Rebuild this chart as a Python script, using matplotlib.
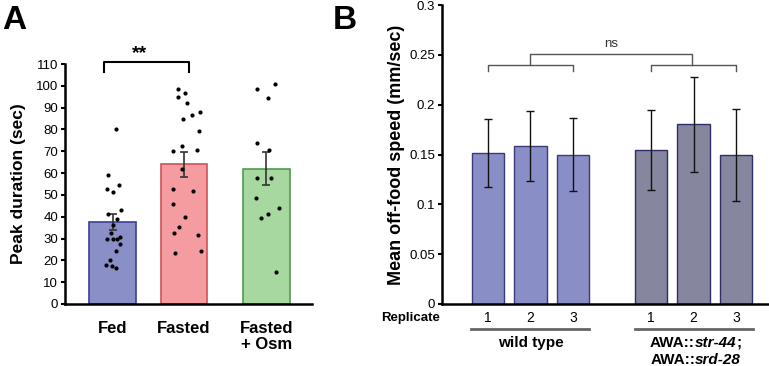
import matplotlib.pyplot as plt
import numpy as np

plt.rcParams['font.family'] = ['Liberation Sans', 'DejaVu Sans']

# ---- panel A data ----
groups_a = ["Fed", "Fasted", "Fasted\n+ Osm"]
means_a = [37.5, 64.0, 62.0]
sem_a = [3.7, 5.7, 7.6]
fed_pts = [80.3, 59.1, 52.9, 54.4, 51.5, 41.4, 43.0, 39.0, 36.1, 29.6,
           29.6, 29.6, 30.5, 32.6, 27.7, 24.1, 20.3, 17.8, 17.5, 16.3]
fed_jit = [0.044, -0.059, -0.073, 0.091, 0.0, -0.059, 0.124, 0.059, 0.0, -0.073,
           0.0, 0.068, 0.110, -0.021, 0.105, 0.044, -0.035, -0.091, -0.007, 0.054]
fasted_pts = [98.7, 96.6, 95.1, 92.0, 88.2, 86.8, 84.6, 79.2, 72.4, 70.2, 70.8,
              61.9, 52.7, 52.0, 46.0, 39.9, 35.3, 32.6, 31.7, 23.5, 24.2]
fasted_jit = [-0.075, 0.023, -0.075, 0.051, 0.229, 0.122, -0.014, 0.220, -0.023, -0.154, 0.183,
              -0.019, -0.145, 0.136, -0.145, 0.019, -0.066, -0.136, 0.197, -0.122, 0.243]
osm_pts = [98.4, 100.9, 94.3, 74.0, 70.8, 57.6, 57.6, 48.4, 43.9, 41.4, 39.3, 14.8]
osm_jit = [-0.138, 0.115, 0.026, -0.138, 0.040, -0.133, 0.068, -0.143, 0.176, 0.016, -0.082, 0.133]

# ---- panel B data ----
replicates = ["1", "2", "3"]
wt_label = "wild type"
# (text, style) pieces, gene names in italics
mut_line1 = [("AWA::", "normal"), ("str-44", "italic"), (";", "normal")]
mut_line2 = [("AWA::", "normal"), ("srd-28", "italic")]
wt_means = [0.152, 0.1585, 0.150]
wt_lo = [0.1174, 0.1234, 0.1137]
wt_hi = [0.186, 0.1936, 0.1863]
mut_means = [0.1548, 0.1803, 0.1495]
mut_lo = [0.1147, 0.1328, 0.103]
mut_hi = [0.195, 0.2274, 0.196]

fig = plt.figure(figsize=(7.69, 3.66), dpi=100)

# ================= A =================
axA = fig.add_axes([65/769, 62/366, 247/769, 240/366])
xa = np.array([0, 1, 2.16])
fills = ["#8b8fc8", "#f59ca0", "#a6d8a0"]
edges = ["#3b3f94", "#cf525a", "#4f9a50"]
axA.bar(xa, means_a, width=0.65, color=fills, edgecolor=edges, linewidth=1.2, zorder=1)
axA.errorbar(xa, means_a, yerr=sem_a, fmt='none', ecolor='#333333', elinewidth=1.2,
             capsize=3.2, capthick=1.2, zorder=2)
for x0, pts, jit in [(xa[0], fed_pts, fed_jit), (xa[1], fasted_pts, fasted_jit), (xa[2], osm_pts, osm_jit)]:
    axA.scatter(x0 + np.array(jit), pts, s=9, color='black', zorder=3, linewidths=0)

axA.set_xlim(-0.667, 2.80)
axA.set_ylim(0, 110)
axA.set_yticks(np.arange(0, 111, 10))
axA.set_xticks(xa)
axA.set_xticklabels(groups_a, fontsize=12, fontweight='bold', linespacing=1.1)
axA.tick_params(axis='x', length=0, pad=12)
axA.tick_params(axis='y', length=3, width=1.5, labelsize=9.5, pad=2)
for s in ['top', 'right']:
    axA.spines[s].set_visible(False)
axA.spines['left'].set_linewidth(1.8)
axA.spines['bottom'].set_linewidth(1.8)
axA.set_ylabel("Peak duration (sec)", fontsize=12.5, fontweight='bold', labelpad=7)

# significance bracket
bx0, bx1 = xa[0] - 0.12, xa[1] + 0.07
axA.plot([bx0, bx0, bx1, bx1], [106.5, 110.8, 110.8, 106.5], color='black', lw=1.5, clip_on=False)
axA.text((bx0 + bx1) / 2 - 0.1, 111, "**", ha='center', va='bottom', fontsize=14, fontweight='bold')

fig.text(2/769, 1 - 5/366, "A", fontsize=24, fontweight='bold', va='top')
fig.text(333/769, 1 - 5/366, "B", fontsize=24, fontweight='bold', va='top')

# ================= B =================
axB = fig.add_axes([442/769, 62/366, 326/769, 299/366])
xw = np.array([0, 1, 2])
xm = xw + 3.84
axB.bar(xw, wt_means, width=0.77, color="#8a8ec6", edgecolor="#3a3a7a", linewidth=1.0)
axB.bar(xm, mut_means, width=0.77, color="#86869e", edgecolor="#2e2e6a", linewidth=1.0)
for xs, m, lo, hi in [(xw, wt_means, wt_lo, wt_hi), (xm, mut_means, mut_lo, mut_hi)]:
    m = np.array(m)
    yerr = [m - np.array(lo), np.array(hi) - m]
    axB.errorbar(xs, m, yerr=yerr, fmt='none', ecolor='#111111', elinewidth=1.0,
                 capsize=3, capthick=1.0)

axB.set_xlim(-1.08, 6.59)
axB.set_ylim(0, 0.3)
axB.set_yticks([0, 0.05, 0.1, 0.15, 0.2, 0.25, 0.3])
axB.set_yticklabels(["0", "0.05", "0.1", "0.15", "0.2", "0.25", "0.3"])
axB.set_xticks(np.concatenate([xw, xm]))
axB.set_xticklabels(replicates + replicates, fontsize=10)
axB.tick_params(axis='x', length=0, pad=5)
axB.tick_params(axis='y', length=3, width=1.5, labelsize=9.5, pad=2)
for s in ['top', 'right']:
    axB.spines[s].set_visible(False)
axB.spines['left'].set_linewidth(1.8)
axB.spines['bottom'].set_linewidth(1.8)
axB.set_ylabel("Mean off-food speed (mm/sec)", fontsize=13, fontweight='bold', labelpad=3)

# ns brackets
gc = '#555555'
for xs in [xw, xm]:
    axB.plot([xs[0], xs[0], xs[2], xs[2]], [0.2335, 0.2395, 0.2395, 0.2335], color=gc, lw=1.0)
c1, c2 = xw[1] - 0.01, xm[1] - 0.03
axB.plot([c1, c1, c2, c2], [0.2395, 0.2505, 0.2505, 0.2395], color=gc, lw=1.0)
axB.text((c1 + c2) / 2, 0.2545, "ns", ha='center', va='bottom', fontsize=9.5, color='#333333')

# labels under axis
axB.text(-1.12, -0.0145, "Replicate", ha='right', va='center',
         fontsize=9.5, fontweight='bold', clip_on=False)
for xs in [xw, xm]:
    axB.plot([xs[0] - 0.39, xs[2] + 0.39], [-0.0255, -0.0255], color='#666666', lw=2.0, clip_on=False)
axB.text(xw[1], -0.0391, wt_label, ha='center', va='center', fontsize=11, fontweight='bold')

renderer = fig.canvas.get_renderer()


def mixed_label(ax, xc, y, pieces):
    # place bold pieces one after another, centred on xc
    widths = []
    for txt, st in pieces:
        t = ax.text(0, 0, txt, fontsize=11, fontweight='bold', style=st)
        widths.append(t.get_window_extent(renderer).width)
        t.remove()
    off = -sum(widths) / 2
    for (txt, st), w in zip(pieces, widths):
        ax.annotate(txt, xy=(xc, y), xytext=(off * 72 / fig.dpi, 0), textcoords='offset points',
                    ha='left', va='center', fontsize=11, fontweight='bold', style=st,
                    annotation_clip=False)
        off += w


mixed_label(axB, xm[1] + 0.05, -0.0391, mut_line1)
mixed_label(axB, xm[1] + 0.05, -0.0560, mut_line2)

plt.savefig("out.png", dpi=100)
